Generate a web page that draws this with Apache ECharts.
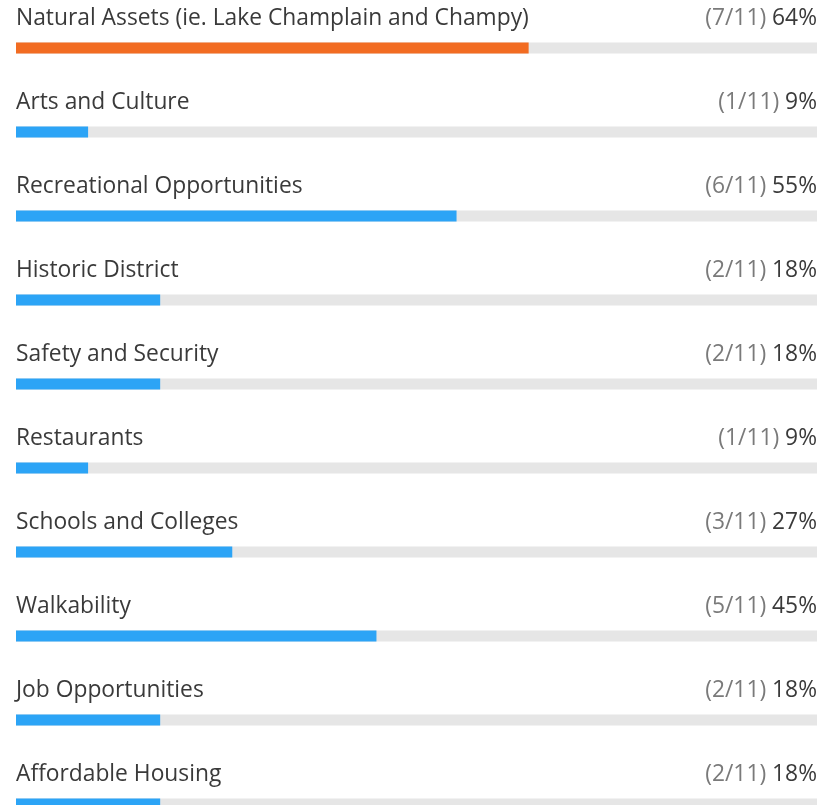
<!DOCTYPE html>
<html>
<head>
<meta charset="utf-8">
<script src="https://cdn.jsdelivr.net/npm/echarts@6/dist/echarts.min.js"></script>
<style>
  html, body { margin: 0; padding: 0; background: #ffffff; overflow: hidden; }
  /* ten rows of 84px; the last row runs past the bottom of the window */
  #chart { width: 821px; height: 847px; }
</style>
</head>
<body>
<div id="chart"></div>
<script>
// Survey answers: how many of the 11 respondents picked each item
const categories = [
  'Natural Assets (ie. Lake Champlain and Champy)',
  'Arts and Culture',
  'Recreational Opportunities',
  'Historic District',
  'Safety and Security',
  'Restaurants',
  'Schools and Colleges',
  'Walkability',
  'Job Opportunities',
  'Affordable Housing'
];
const counts = [7, 1, 6, 2, 2, 1, 3, 5, 2, 2];
const percents = [64, 9, 55, 18, 18, 9, 27, 45, 18, 18];
const respondents = 11;
const highlightIndex = 0;

const FONT = 'Open Sans';
const FONT_SIZE = 22.8;
const barColor = '#2ca4f6';
const topColor = '#f26c22';

const chart = echarts.init(document.getElementById('chart'), null, { renderer: 'canvas' });

chart.setOption({
  animation: false,
  grid: { left: 16, right: 4, top: 6, bottom: 1, containLabel: false },
  xAxis: { type: 'value', min: 0, max: 100, show: false },
  yAxis: { type: 'category', data: categories, inverse: true, show: false },
  series: [
    {
      // grey track with the count / percentage text at its right end
      type: 'bar',
      data: categories.map(() => 100),
      barWidth: 11,
      barGap: '-100%',
      itemStyle: { color: '#e6e6e6' },
      silent: true,
      label: {
        show: true,
        position: ['100%', -24],
        align: 'right',
        verticalAlign: 'middle',
        formatter: p => '{a|(' + counts[p.dataIndex] + '/' + respondents + ') }{b|' + percents[p.dataIndex] + '%}',
        rich: {
          a: { fontFamily: FONT, fontSize: FONT_SIZE, color: '#7a7a7a' },
          b: { fontFamily: FONT, fontSize: FONT_SIZE, color: '#3a3a3a' }
        }
      },
      z: 1
    },
    {
      type: 'bar',
      data: percents.map((v, i) => ({ value: v, itemStyle: { color: i === highlightIndex ? topColor : barColor } })),
      barWidth: 11,
      label: {
        show: true,
        position: [0, -24],
        align: 'left',
        verticalAlign: 'middle',
        formatter: p => categories[p.dataIndex],
        fontFamily: FONT,
        fontSize: FONT_SIZE,
        color: '#3a3a3a'
      },
      z: 2
    }
  ]
});
</script>
</body>
</html>
